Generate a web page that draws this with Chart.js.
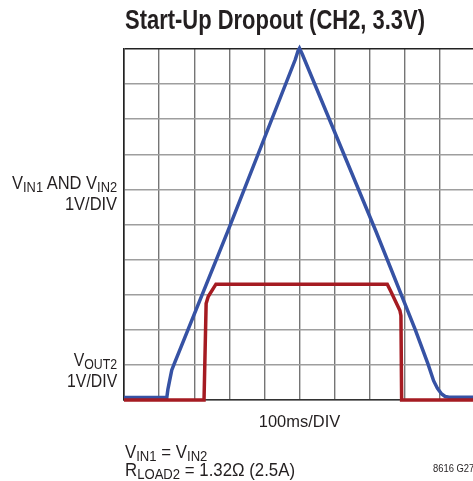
<!DOCTYPE html>
<html>
<head>
<meta charset="utf-8">
<script src="https://cdn.jsdelivr.net/npm/chart.js@4.4.1/dist/chart.umd.min.js"></script>
<style>
  html, body { margin: 0; padding: 0; background: #fff; overflow: hidden; }
  #wrap { position: relative; width: 480px; height: 481px; }
  canvas { position: absolute; left: 0; top: 0; }
  .lbl { position: absolute; font-family: "Liberation Sans", Arial, sans-serif; color: #231f20; white-space: nowrap; }
  .lbl sub { font-size: 0.78em; vertical-align: -3px; line-height: 0; }
  #vin { right: 363px; top: 172px; font-size: 19px; line-height: 21px; text-align: right; transform-origin: right center; }
  #vout { right: 363px; top: 348.6px; font-size: 19px; line-height: 21px; text-align: right; transform-origin: right center; }
  #foot { left: 125px; top: 442.8px; font-size: 18px; line-height: 18px; transform-origin: left center; }
  #code { left: 433px; top: 462.2px; font-size: 11px; line-height: 12px; transform-origin: left center; }
</style>
</head>
<body>
<div id="wrap">
  <canvas id="c" width="480" height="481"></canvas>
  <div class="lbl" id="vin" data-w="105">V<sub>IN1</sub> AND V<sub>IN2</sub><br>1V/DIV</div>
  <div class="lbl" id="vout" data-w="50">V<sub>OUT2</sub><br>1V/DIV</div>
  <div class="lbl" id="foot" data-w="170">V<sub>IN1</sub> = V<sub>IN2</sub><br>R<sub>LOAD2</sub> = 1.32Ω (2.5A)</div>
  <div class="lbl" id="code" data-w="41">8616 G27</div>
</div>
<script>
// ---- data (time in divisions of 100ms, voltage in divisions of 1V) ----
const chartTitle = "Start-Up Dropout (CH2, 3.3V)";
const xAxisLabel = "100ms/DIV";
const xTicks = [0,1,2,3,4,5,6,7,8,9,10];
const yTicks = [0,1,2,3,4,5,6,7,8,9,10];

const vinTime  = [0, 1.22, 1.25, 1.29, 1.36, 1.43, 2.97, 4.88, 4.96, 5.00, 5.08, 7.18, 8.30, 8.66, 8.82, 8.93, 9.05, 9.15, 9.26, 10];
const vinVolts = [0.07, 0.07, 0.30, 0.50, 0.85, 1.03, 4.84, 9.70, 9.95, 10.02, 9.85, 4.80, 2.00, 1.03, 0.55, 0.33, 0.17, 0.10, 0.08, 0.08];

const voutTime  = [0, 2.28, 2.34, 2.40, 2.62, 7.50, 7.60, 7.86, 7.89, 7.91, 10];
const voutVolts = [0, 0, 2.75, 2.95, 3.30, 3.30, 3.10, 2.55, 2.40, 0, 0];

const toPts = (xs, ys) => xs.map((x, i) => ({ x: x, y: ys[i] }));

// squeeze html labels to condensed widths
document.querySelectorAll('.lbl').forEach(el => {
  const target = parseFloat(el.dataset.w);
  const w = el.offsetWidth;
  if (w > 0) el.style.transform = 'scaleX(' + (target / w) + ')';
});

function drawScaled(ctx, text, font, x, y, width, align) {
  ctx.save();
  ctx.font = font;
  ctx.fillStyle = '#231f20';
  ctx.textBaseline = 'alphabetic';
  ctx.textAlign = align;
  const w = ctx.measureText(text).width;
  ctx.translate(x, y);
  ctx.scale(width / w, 1);
  ctx.fillText(text, 0, 0);
  ctx.restore();
}

const textPlugin = {
  id: 'condensedTexts',
  afterDraw(chart) {
    const ctx = chart.ctx;
    const a = chart.chartArea;
    drawScaled(ctx, chartTitle, 'bold 27px "Liberation Sans", Arial, sans-serif', a.left + 1, 29, 300, 'left');
    drawScaled(ctx, xAxisLabel, '17px "Liberation Sans", Arial, sans-serif', (a.left + a.right) / 2, 427.3, 81.4, 'center');
  }
};

new Chart(document.getElementById('c'), {
  type: 'scatter',
  data: {
    datasets: [
      { label: 'VOUT2', data: toPts(voutTime, voutVolts), showLine: true, borderColor: '#a51b22', borderWidth: 3.5, pointRadius: 0, tension: 0, clip: false },
      { label: 'VIN', data: toPts(vinTime, vinVolts), showLine: true, borderColor: '#3652a4', borderWidth: 3.5, pointRadius: 0, tension: 0, clip: false }
    ]
  },
  options: {
    responsive: false,
    animation: false,
    devicePixelRatio: 1,
    layout: { padding: { left: 124, right: 5, top: 49, bottom: 81 } },
    plugins: {
      legend: { display: false },
      tooltip: { enabled: false },
      title: { display: false }
    },
    scales: {
      x: {
        type: 'linear', min: 0, max: 10,
        afterBuildTicks: s => { s.ticks = xTicks.map(v => ({ value: v })); },
        ticks: { display: false },
        grid: { drawTicks: false, color: '#757575', lineWidth: 1.4 },
        border: { display: true, color: '#333', width: 1.5 }
      },
      y: {
        type: 'linear', min: 0, max: 10,
        afterBuildTicks: s => { s.ticks = yTicks.map(v => ({ value: v })); },
        ticks: { display: false },
        grid: { drawTicks: false, color: c => (c.tick && c.tick.value === 10 ? '#222' : '#9e9e9e'), lineWidth: c => (c.tick && c.tick.value === 10 ? 1.6 : 1.4) },
        border: { display: true, color: '#222', width: 1.6 }
      }
    }
  },
  plugins: [textPlugin]
});
</script>
</body>
</html>
